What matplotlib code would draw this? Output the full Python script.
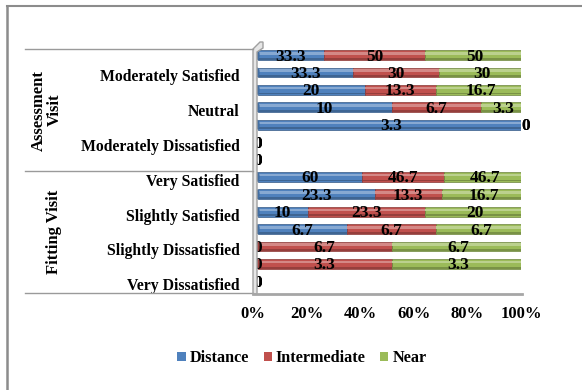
import numpy as np
import matplotlib
matplotlib.use("Agg")
import matplotlib.pyplot as plt
from matplotlib.transforms import ScaledTranslation, blended_transform_factory
from matplotlib.patches import Patch, Polygon, Ellipse
from matplotlib.lines import Line2D
from matplotlib.colors import to_rgb

# ---- data -------------------------------------------------------------
levels = ["Very Satisfied", "Moderately Satisfied", "Slightly Satisfied", "Neutral",
          "Slightly Dissatisfied", "Moderately Dissatisfied", "Very Dissatisfied"]
visits = ["Assessment\nVisit", "Fitting Visit"]
series = ["Distance", "Intermediate", "Near"]
colors = ["#4F81BD", "#C0504D", "#9BBB59"]

assessment_distance = [33.3, 33.3, 20, 10, 3.3, 0, 0]
assessment_intermediate = [50, 30, 13.3, 6.7, 0, 0, 0]
assessment_near = [50, 30, 16.7, 3.3, 0, 0, 0]

fitting_distance = [60, 23.3, 10, 6.7, 0, 0, 0]
fitting_intermediate = [46.7, 13.3, 23.3, 6.7, 6.7, 3.3, 0]
fitting_near = [46.7, 16.7, 20, 6.7, 6.7, 3.3, 0]

x_ticks = [0, 20, 40, 60, 80, 100]
x_tick_labels = ["0%", "20%", "40%", "60%", "80%", "100%"]

# ---- figure -----------------------------------------------------------
W, H = 582, 390
plt.rcParams["font.family"] = ["Liberation Serif", "DejaVu Serif"]
plt.rcParams["font.weight"] = "bold"
FS_CAT = 11.3
FS_VAL = 12.5
FS_TICK = 12
FS_LEG = 11.7

fig = plt.figure(figsize=(W / 100, H / 100), dpi=100)
ax = fig.add_axes([253 / W, 1 - 293 / H, (521 - 253) / W, (293 - 49.3) / H])

rows = []
for visit, d, m, n in [(visits[0], assessment_distance, assessment_intermediate, assessment_near),
                       (visits[1], fitting_distance, fitting_intermediate, fitting_near)]:
    for i, lev in enumerate(levels):
        rows.append((visit, lev, [d[i], m[i], n[i]]))

nrows = len(rows)
ypos = np.arange(nrows)[::-1]  # first row at the top

# bars sit a little behind the floor (3-D depth offset)
bar_tr = ax.transData + ScaledTranslation(0.045, 0.03, fig.dpi_scale_trans)
lab_tr = ax.transData + ScaledTranslation(0.045, 0.015, fig.dpi_scale_trans)

def shade(c, f):
    r = np.array(to_rgb(c))
    if f >= 0:
        return tuple(r + (1 - r) * f)
    return tuple(r * (1 + f))

bh = 0.56
for (visit, lev, vals), y in zip(rows, ypos):
    tot = sum(vals)
    fr = [v / tot * 100 if tot > 0 else 0 for v in vals]
    left = 0
    last = None
    first = None
    for k, (v, f) in enumerate(zip(vals, fr)):
        c = colors[k]
        if f > 0:
            ax.barh(y, f, left=left, height=bh, color=c, transform=bar_tr,
                    edgecolor=shade(c, -0.3), linewidth=0.5)
            ax.barh(y + 0.1, f, left=left, height=0.15, color=shade(c, 0.32),
                    transform=bar_tr, linewidth=0)
            ax.barh(y - 0.21, f, left=left, height=0.11, color=shade(c, -0.22),
                    transform=bar_tr, linewidth=0)
            last = c
            if first is None:
                first = c
        ax.text(left + f / 2, y, f"{v:g}", transform=lab_tr, ha="center", va="center",
                fontsize=FS_VAL, fontweight="bold", color="black", zorder=5)
        left += f
    if last is not None:
        ax.add_patch(Ellipse((100, y), 1.6, bh, transform=bar_tr,
                             facecolor=shade(last, 0.25), edgecolor=shade(last, -0.3),
                             linewidth=0.5, zorder=3))
        ax.add_patch(Ellipse((0, y), 1.6, bh, transform=bar_tr,
                             facecolor=shade(first, -0.15), linewidth=0, zorder=3))

ax.set_xlim(0, 100)
ax.set_ylim(-0.5, nrows - 0.5)
ax.set_xticks(x_ticks)
ax.set_xticklabels(x_tick_labels, fontsize=FS_TICK, fontweight="bold")
shown = [y for y in ypos if y % 2 == 0]
ax.set_yticks(shown)
ax.set_yticklabels([rows[nrows - 1 - y][1] for y in shown], fontsize=FS_CAT, fontweight="bold")
ax.tick_params(axis="both", length=0)
ax.tick_params(axis="x", pad=9.5)
ax.tick_params(axis="y", pad=9.5)
for s in ax.spines.values():
    s.set_visible(False)
ax.patch.set_visible(False)

# group separators and group names
bt = blended_transform_factory(fig.transFigure, ax.transData)
for yb in [nrows - 0.5, nrows / 2 - 0.5, -0.5]:
    fig.add_artist(Line2D([25 / W, 253 / W], [yb, yb], transform=bt,
                          color="#9A9A9A", lw=1.0))
n_a = len(levels)
fig.text(47 / W, (nrows - 1 + n_a) / 2, visits[0], transform=bt, rotation=90,
         ha="center", va="center", multialignment="center", fontsize=FS_TICK, fontweight="bold",
         linespacing=1.0)
fig.text(54 / W, (n_a - 1) / 2, visits[1], transform=bt, rotation=90,
         ha="center", va="center", fontsize=FS_TICK, fontweight="bold")

# 3-D wall and floor
def P(x, y):
    return (x / W, 1 - y / H)

wall = Polygon([P(253, 294), P(253, 49), P(260, 42), P(263, 42), P(263, 48), P(257, 52), P(257, 294)],
               closed=True, transform=fig.transFigure, facecolor="#E6E6E6",
               edgecolor="#A0A0A0", lw=1.0, zorder=1)
fig.add_artist(wall)
fig.add_artist(Line2D([P(253, 293)[0], P(522, 293)[0]], [P(0, 293.5)[1]] * 2,
                      transform=fig.transFigure, color="#A6A6A6", lw=2.0))

# chart border
fig.add_artist(Line2D([P(7, 0)[0], 1.0], [P(0, 5.5)[1]] * 2, transform=fig.transFigure,
                      color="#8C8C8C", lw=1.5))
fig.add_artist(Line2D([P(7, 0)[0]] * 2, [P(0, 5.5)[1], 0.0], transform=fig.transFigure,
                      color="#8C8C8C", lw=1.8))

handles = [Patch(facecolor=c, edgecolor="none", label=s) for c, s in zip(colors, series)]
fig.legend(handles=handles, loc="center", bbox_to_anchor=(302 / W, 1 - 358 / H), ncol=3,
           frameon=False, prop={"weight": "bold", "size": FS_LEG},
           handlelength=0.5, handleheight=0.5, handletextpad=0.25, columnspacing=0.9)

fig.savefig("out.png", dpi=100)
